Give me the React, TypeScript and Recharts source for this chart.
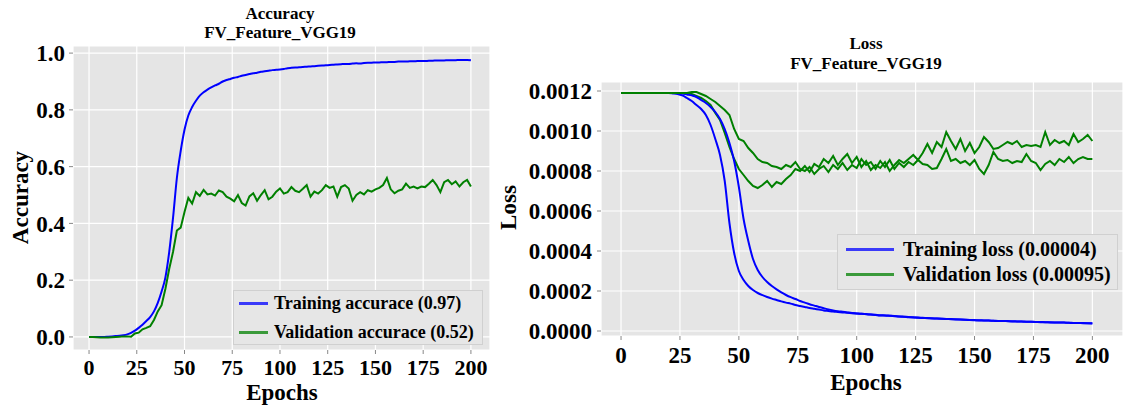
import { LineChart, Line, XAxis, YAxis, CartesianGrid, Legend } from 'recharts'

const FONT = '"Liberation Serif", "Times New Roman", serif'

// one row every 2 epochs, 0..200
const epochs = Array.from({ length: 101 }, (_, i) => i * 2)

const trainAcc = [
  0, 0, 0, 0, 0, 0.001, 0.002, 0.003, 0.004, 0.006,
  0.009, 0.014, 0.022, 0.032, 0.043, 0.056, 0.07, 0.09, 0.12, 0.16,
  0.21, 0.3, 0.42, 0.56, 0.655, 0.73, 0.78, 0.81, 0.832, 0.85,
  0.862, 0.871, 0.879, 0.886, 0.892, 0.9, 0.905, 0.909, 0.913, 0.916,
  0.92, 0.923, 0.926, 0.929, 0.931, 0.934, 0.936, 0.938, 0.94, 0.941,
  0.942, 0.944, 0.947, 0.948, 0.949, 0.95, 0.951, 0.952, 0.953, 0.954,
  0.955, 0.956, 0.957, 0.958, 0.959, 0.96, 0.961, 0.962, 0.962, 0.963,
  0.964, 0.963, 0.965, 0.966, 0.966, 0.967, 0.967, 0.968, 0.968, 0.969,
  0.969, 0.97, 0.97, 0.97, 0.971, 0.971, 0.972, 0.972, 0.972, 0.973,
  0.973, 0.974, 0.974, 0.974, 0.975, 0.975, 0.975, 0.976, 0.976, 0.976,
  0.975,
]

const valAcc = [
  0, 0, -0.001, -0.002, -0.002, -0.002, -0.001, 0, 0.001, 0.002,
  0.002, 0.001, 0.012, 0.015, 0.027, 0.032, 0.038, 0.06, 0.09, 0.112,
  0.17, 0.24, 0.3, 0.375, 0.385, 0.44, 0.49, 0.47, 0.51, 0.497,
  0.518, 0.502, 0.505, 0.498, 0.516, 0.51, 0.494, 0.487, 0.478, 0.5,
  0.472, 0.463, 0.495, 0.506, 0.48, 0.5, 0.517, 0.485, 0.494, 0.512,
  0.523, 0.505, 0.51, 0.528, 0.515, 0.51, 0.522, 0.535, 0.494, 0.512,
  0.505, 0.517, 0.535, 0.525, 0.53, 0.494, 0.528, 0.535, 0.523, 0.48,
  0.5, 0.51, 0.502, 0.517, 0.512, 0.52, 0.525, 0.535, 0.56, 0.52,
  0.506, 0.515, 0.52, 0.54, 0.525, 0.53, 0.523, 0.53, 0.528, 0.54,
  0.553, 0.535, 0.51, 0.545, 0.553, 0.538, 0.548, 0.53, 0.545, 0.553,
  0.53,
]

// loss values below are in units of 1e-4
const trainLossA = [
  11.9, 11.9, 11.9, 11.9, 11.9, 11.9, 11.9, 11.9, 11.9, 11.9,
  11.9, 11.88, 11.85, 11.78, 11.65, 11.5, 11.3, 11.1, 10.8, 10.3,
  9.6, 8.8, 7.5, 5.4, 3.9, 3.0, 2.55, 2.25, 2.05, 1.9,
  1.79, 1.7, 1.62, 1.55, 1.48, 1.42, 1.37, 1.3, 1.25, 1.2,
  1.15, 1.11, 1.07, 1.03, 1.0, 0.97, 0.95, 0.93, 0.91, 0.89,
  0.87, 0.86, 0.84, 0.82, 0.8, 0.78, 0.77, 0.76, 0.74, 0.72,
  0.71, 0.69, 0.68, 0.66, 0.65, 0.64, 0.63, 0.62, 0.61, 0.6,
  0.59, 0.58, 0.57, 0.56, 0.55, 0.54, 0.53, 0.52, 0.52, 0.51,
  0.5, 0.5, 0.49, 0.48, 0.48, 0.47, 0.46, 0.46, 0.45, 0.44,
  0.44, 0.43, 0.43, 0.42, 0.42, 0.41, 0.4, 0.4, 0.39, 0.39,
  0.38,
]

const trainLossB = [
  11.9, 11.9, 11.9, 11.9, 11.9, 11.9, 11.9, 11.9, 11.9, 11.9,
  11.9, 11.9, 11.9, 11.88, 11.83, 11.78, 11.7, 11.55, 11.4, 11.2,
  10.95, 10.6, 10.1, 9.4, 8.5, 7.2, 5.6, 4.5, 3.6, 3.05,
  2.7, 2.45, 2.25, 2.08, 1.93, 1.8, 1.69, 1.6, 1.5, 1.42,
  1.34, 1.27, 1.2, 1.14, 1.08, 1.03, 0.99, 0.96, 0.93, 0.9,
  0.88, 0.86, 0.845, 0.83, 0.81, 0.79, 0.78, 0.765, 0.75, 0.73,
  0.715, 0.7, 0.685, 0.67, 0.66, 0.645, 0.635, 0.625, 0.615, 0.605,
  0.595, 0.585, 0.575, 0.565, 0.555, 0.545, 0.535, 0.53, 0.52, 0.515,
  0.505, 0.5, 0.495, 0.485, 0.48, 0.475, 0.465, 0.46, 0.455, 0.45,
  0.44, 0.435, 0.43, 0.425, 0.42, 0.415, 0.405, 0.4, 0.395, 0.39,
  0.385,
]

const valLossA = [
  11.9, 11.9, 11.9, 11.9, 11.9, 11.9, 11.9, 11.9, 11.9, 11.9,
  11.9, 11.9, 11.9, 11.9, 11.88, 11.85, 11.75, 11.65, 11.5, 11.3,
  10.9, 10.55, 9.9, 9.2, 8.6, 8.1, 7.8, 7.5, 7.25, 7.15,
  7.3, 7.5, 7.2, 7.45, 7.35, 7.6, 7.8, 8.1, 8.0, 8.25,
  7.95, 8.35, 8.2, 8.6, 8.4, 8.75, 8.3, 8.6, 8.85, 8.4,
  8.7, 8.2, 8.5, 8.05, 8.3, 8.15, 8.45, 8.0, 8.3, 8.55,
  8.4, 8.6, 8.8, 8.55, 8.9, 9.35, 8.9, 9.45, 9.2, 9.95,
  9.5, 9.1, 9.6, 9.0, 9.4, 8.9, 9.2, 9.7, 9.45, 9.1,
  9.15, 9.3, 9.45, 9.35, 9.5, 9.2, 9.3, 9.25, 9.3, 9.2,
  9.95, 9.3, 9.55, 9.4, 9.5, 9.3, 9.85, 9.45, 9.6, 9.8,
  9.5,
]

const valLossB = [
  11.9, 11.9, 11.9, 11.9, 11.9, 11.9, 11.9, 11.9, 11.9, 11.9,
  11.9, 11.9, 11.9, 11.9, 11.9, 11.95, 11.95, 11.85, 11.75, 11.6,
  11.45, 11.25, 11.05, 10.8, 10.1, 9.6, 9.5, 9.15, 8.9, 8.6,
  8.45, 8.4, 8.25, 8.2, 8.1, 8.3, 8.2, 8.45, 8.1, 8.0,
  8.2, 7.85, 8.1, 8.25, 7.95, 8.3, 8.1, 8.4, 8.05, 8.3,
  8.15, 8.6, 8.3, 8.45, 8.1, 8.5, 8.2, 8.55, 8.1, 8.4,
  8.2, 8.45, 8.3, 8.55, 8.35, 8.3, 8.1, 8.15, 8.6, 9.1,
  8.5, 8.6, 8.4, 8.5, 8.3, 8.55, 8.1, 7.85, 8.3, 8.95,
  8.6, 8.5, 8.55, 8.4, 8.5, 8.45, 8.85, 8.5, 8.4, 8.05,
  8.35, 8.5, 8.3, 8.6, 8.45, 8.7, 8.4, 8.6, 8.7, 8.6,
  8.6,
]

const xTicks = [0, 25, 50, 75, 100, 125, 150, 175, 200]
const accTicks = [0, 0.2, 0.4, 0.6, 0.8, 1.0]
const lossTicks = [0, 2, 4, 6, 8, 10, 12]

const accData = epochs.map((epoch, i) => ({ epoch, train: trainAcc[i], val: valAcc[i] }))
const lossData = epochs.map((epoch, i) => ({
  epoch,
  trainA: trainLossA[i],
  trainB: trainLossB[i],
  valA: valLossA[i],
  valB: valLossB[i],
}))

const tickStyle = { fill: '#000', fontSize: 23, fontWeight: 'bold', fontFamily: FONT }
const textStyle = { position: 'absolute' as const, fontFamily: FONT, fontWeight: 'bold' as const, color: '#000', textAlign: 'center' as const, whiteSpace: 'nowrap' as const }

function LegendBox(props: any) {
  const { payload = [], fontSize, lineLen, padLeft, gap, padTop, rowH, rowGap } = props
  const items = payload.filter((p: any) => p.type !== 'none')
  return (
    <div style={{ boxSizing: 'border-box', width: '100%', height: '100%', background: '#e6e6e6', border: '1px solid #d0d0d0', paddingTop: padTop }}>
      {items.map((p: any, i: number) => (
        <div key={p.value} style={{ display: 'flex', alignItems: 'center', height: rowH, marginTop: i ? rowGap : 0, paddingLeft: padLeft }}>
          <span style={{ display: 'inline-block', width: lineLen, height: 3, background: p.color, opacity: 0.75, marginRight: gap }} />
          <span style={{ fontFamily: FONT, fontWeight: 'bold', fontSize, color: '#000', whiteSpace: 'nowrap' }}>{p.value}</span>
        </div>
      ))}
    </div>
  )
}

function YLabel({ text, cx, cy }: { text: string; cx: number; cy: number }) {
  return (
    <div style={{ ...textStyle, fontSize: 23, lineHeight: '23px', width: 200, height: 23, left: cx - 100, top: cy - 11.5, transform: 'rotate(-90deg)' }}>
      {text}
    </div>
  )
}

export default function App() {
  return (
    <div style={{ position: 'absolute', left: 0, top: 0, width: 1123, height: 408, background: '#fff', overflow: 'hidden' }}>
      {/* accuracy panel */}
      <div style={{ ...textStyle, left: 130, top: 4, width: 300, fontSize: 17, lineHeight: '19px' }}>
        Accuracy<br />FV_Feature_VGG19
      </div>
      <YLabel text="Accuracy" cx={20} cy={197} />
      <div style={{ ...textStyle, left: 182, top: 387, width: 200, fontSize: 23, lineHeight: '12px' }}>Epochs</div>
      <div style={{ position: 'absolute', left: 0, top: 0 }}>
        <LineChart width={500} height={408} data={accData} margin={{ top: 46, right: 10, bottom: 18, left: 0 }}>
          <CartesianGrid stroke="#ffffff" strokeWidth={1.2} fill="#e5e5e5" />
          <XAxis dataKey="epoch" type="number" domain={[-8.4, 210]} ticks={xTicks} allowDataOverflow
            height={40} axisLine={false} tickSize={4} tickMargin={5} tickLine={{ stroke: '#888' }} tick={{ ...tickStyle, fontSize: 22 }} />
          <YAxis type="number" domain={[-0.046, 1.025]} ticks={accTicks} allowDataOverflow width={73}
            axisLine={false} tickSize={4} tickMargin={4} tickLine={{ stroke: '#888' }} tick={tickStyle}
            tickFormatter={(v: number) => v.toFixed(1)} />
          <Line dataKey="train" name="Training accurace (0.97)" stroke="#0000ff" strokeWidth={2} dot={false} type="monotone" isAnimationActive={false} />
          <Line dataKey="val" name="Validation accurace (0.52)" stroke="#008000" strokeWidth={2} dot={false} type="linear" isAnimationActive={false} />
          <Legend layout="vertical" align="center" verticalAlign="middle"
            wrapperStyle={{ position: 'absolute', left: 233, top: 290, width: 250, height: 55 }}
            content={(p: any) => <LegendBox {...p} fontSize={18} lineLen={29} padLeft={5} gap={6} padTop={0} rowH={24} rowGap={5} />} />
        </LineChart>
      </div>

      {/* loss panel */}
      <div style={{ ...textStyle, left: 716, top: 34, width: 300, fontSize: 17, lineHeight: '20px' }}>
        Loss<br />FV_Feature_VGG19
      </div>
      <YLabel text="Loss" cx={508} cy={207} />
      <div style={{ ...textStyle, left: 766, top: 377, width: 200, fontSize: 23, lineHeight: '12px' }}>Epochs</div>
      <div style={{ position: 'absolute', left: 500, top: 0 }}>
        <LineChart width={623} height={408} data={lossData} margin={{ top: 82, right: 0, bottom: 32, left: 0 }}>
          <CartesianGrid stroke="#ffffff" strokeWidth={1.2} fill="#e5e5e5" />
          <XAxis dataKey="epoch" type="number" domain={[-8.5, 213]} ticks={xTicks} allowDataOverflow
            height={40} axisLine={false} tickSize={4} tickMargin={7} tickLine={{ stroke: '#888' }} tick={tickStyle} />
          <YAxis type="number" domain={[-0.25, 12.45]} ticks={lossTicks} allowDataOverflow width={101}
            axisLine={false} tickSize={4} tickMargin={5} tickLine={{ stroke: '#888' }} tick={tickStyle}
            tickFormatter={(v: number) => (v / 10000).toFixed(4)} />
          <Line dataKey="trainA" name="Training loss (0.00004)" stroke="#0000ff" strokeWidth={2} dot={false} type="monotone" isAnimationActive={false} />
          <Line dataKey="valA" name="Validation loss (0.00095)" stroke="#008000" strokeWidth={2} dot={false} type="linear" isAnimationActive={false} />
          <Line dataKey="trainB" legendType="none" stroke="#0000ff" strokeWidth={2} dot={false} type="monotone" isAnimationActive={false} />
          <Line dataKey="valB" legendType="none" stroke="#008000" strokeWidth={2} dot={false} type="linear" isAnimationActive={false} />
          <Legend layout="vertical" align="center" verticalAlign="middle"
            wrapperStyle={{ position: 'absolute', left: 337, top: 234, width: 281, height: 56 }}
            content={(p: any) => <LegendBox {...p} fontSize={20} lineLen={48} padLeft={8} gap={9} padTop={2} rowH={24} rowGap={1} />} />
        </LineChart>
      </div>
    </div>
  )
}
